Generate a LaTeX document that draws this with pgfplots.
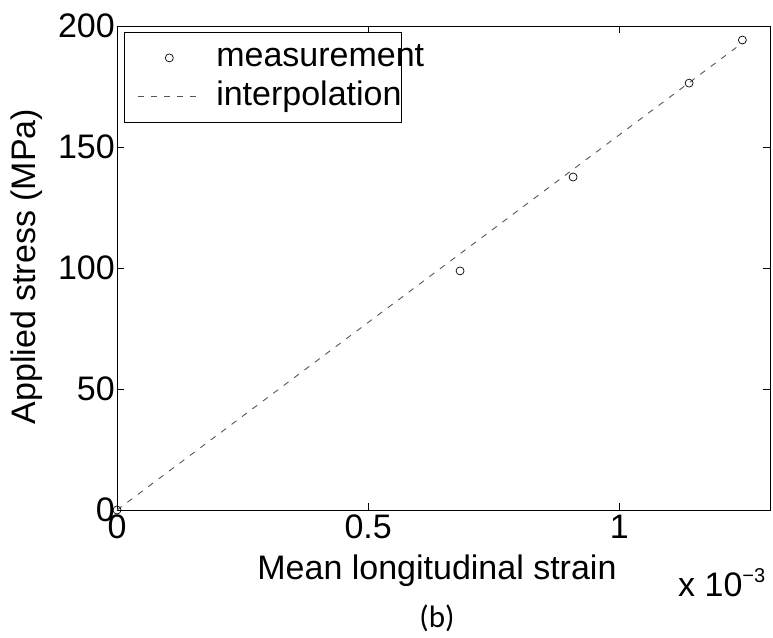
\documentclass[border=0pt]{standalone}
\usepackage{pgfplots}
\pgfplotsset{compat=1.18}
\usepackage{fontspec}
\setmainfont{Liberation Sans}
\newfontfamily\capfont{Carlito}
\definecolor{dashgray}{RGB}{85,85,85}
\begin{document}
\begin{tikzpicture}
\path[use as bounding box] (-117pt,-127pt) rectangle (656pt,510pt);
\begin{axis}[
  scale only axis, width=653pt, height=484pt,
  xmin=0, xmax=1.3e-3, ymin=0, ymax=200,
  xtick={0,0.0005,0.001}, xticklabels={0,0.5,1},
  ytick={0,50,100,150,200},
  scaled x ticks=false,
  tick align=inside, major tick length=7pt,
  axis line style={line width=0.9pt, black},
  every tick/.style={black, line width=0.7pt},
  /pgf/number format/assume math mode=true,
  tick label style={font=\fontsize{34}{40}\selectfont},
  yticklabel style={inner xsep=2pt},
  xticklabel style={inner ysep=5pt},
  xlabel={Mean longitudinal strain},
  ylabel={Applied stress (MPa)},
  label style={font=\fontsize{34}{40}\selectfont},
  xlabel style={at={(axis description cs:0.49,-0.1446)}, anchor=base},
  ylabel style={at={(axis description cs:-0.138,0.503)}, anchor=center},
  clip=false,
  legend style={
    at={(axis description cs:0.0107,0.9876)}, anchor=north west,
    draw=black, line width=0.8pt,
    font=\fontsize{34}{40}\selectfont,
    inner xsep=13pt, inner ysep=9pt,
    nodes={inner sep=0pt, text height=25pt, text depth=8pt},
    column sep=15pt, row sep=6pt,
    cells={anchor=west},
  },
  legend image code/.code={\draw[mark repeat=2,mark phase=2,#1] plot coordinates {(0pt,0pt)(31.5pt,0pt)(63pt,0pt)};},
]
\addplot[only marks, mark=o, mark size=4pt, mark options={line width=0.7pt, black}]
  coordinates {(0,0) (0.000683,98.8) (0.000908,137.6) (0.001139,176.4) (0.001245,194.2)};
\addlegendentry{\makebox[172pt][l]{measurement}}
\addplot[dashgray, line width=0.9pt, dash pattern=on 6pt off 7pt]
  coordinates {(0,0) (0.001245,193)};
\addlegendentry{\makebox[172pt][l]{interpolation}}
\end{axis}
\node[anchor=base west, font=\fontsize{34}{40}\selectfont, inner sep=0pt] at (561pt,-86pt) {x 10\raisebox{14pt}{\fontsize{20}{20}\selectfont −3}};
\node[anchor=base, font=\capfont\fontsize{31}{36}\selectfont, inner sep=0pt] at (320pt,-117pt) {(b)};
\end{tikzpicture}
\end{document}
